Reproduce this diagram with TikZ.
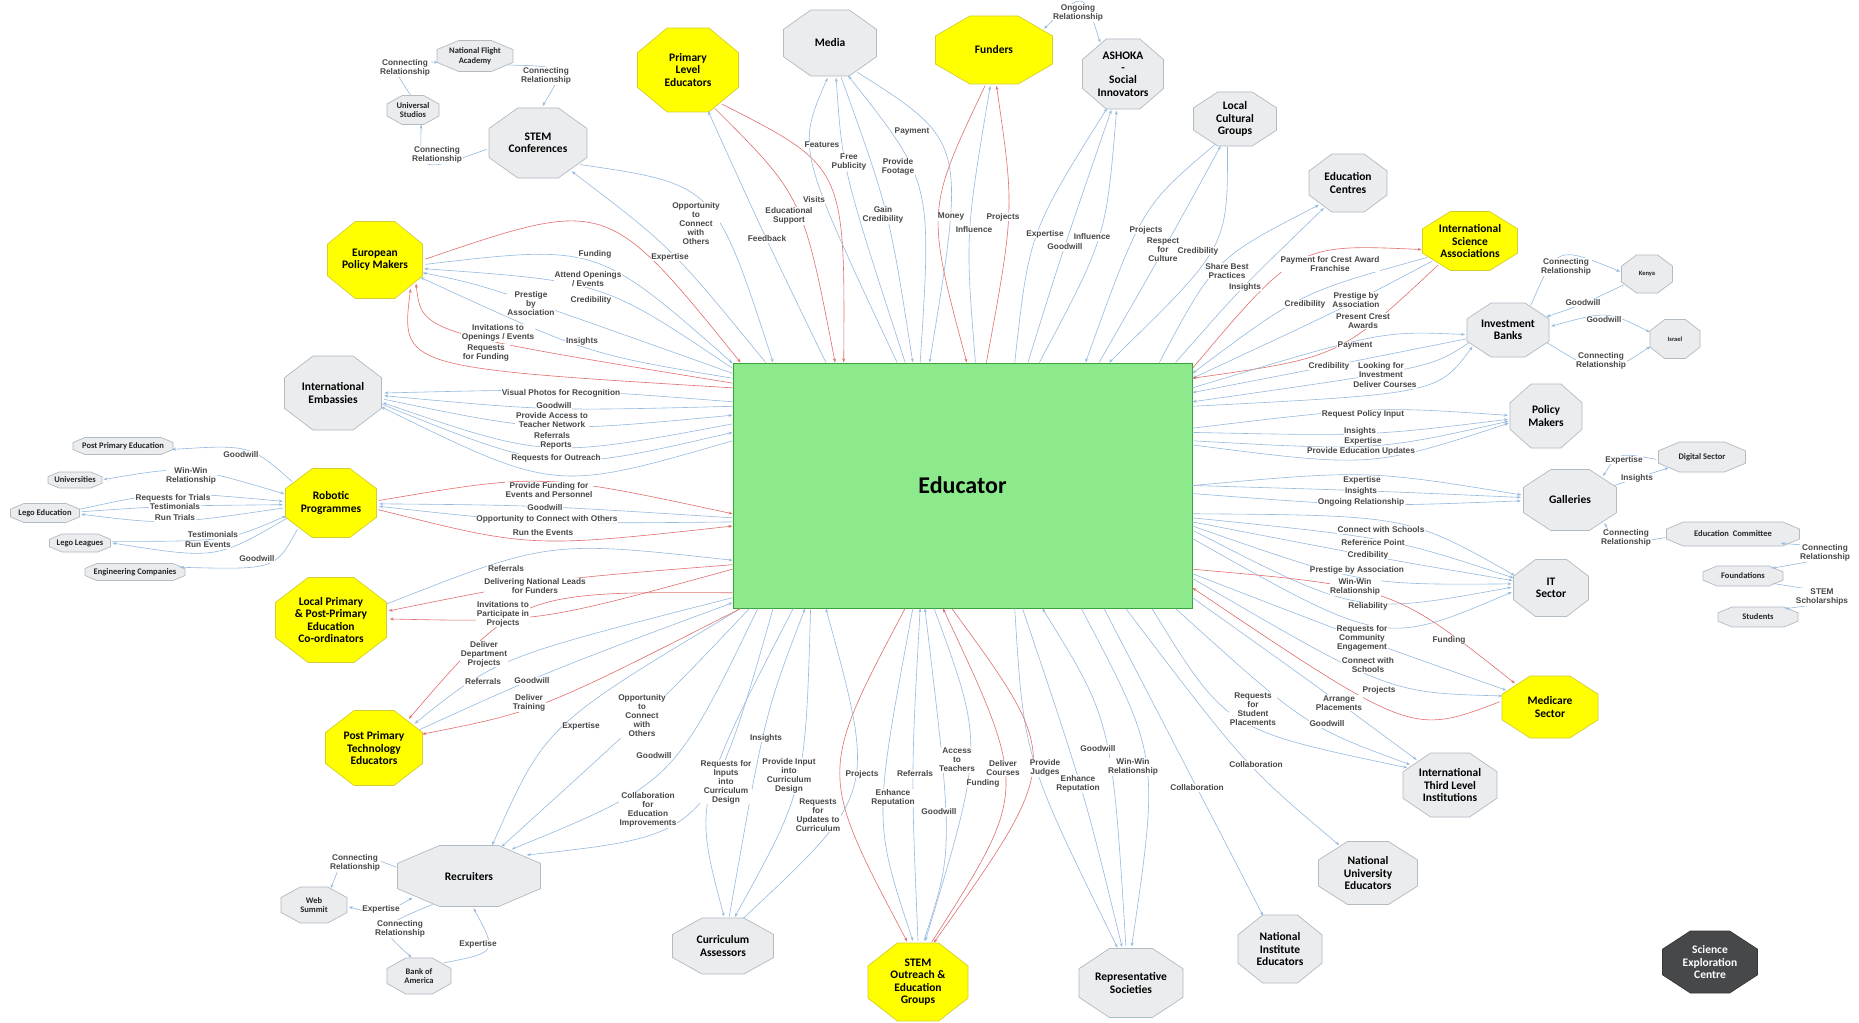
\documentclass[tikz,border=0pt]{standalone}
\usepackage{fontspec}
\setmainfont{Liberation Sans}
\newfontfamily\nodefont{Carlito}
\usetikzlibrary{calc,arrows.meta,shapes.geometric}
\pgfdeclarelayer{fg}
\pgfsetlayers{main,fg}
\definecolor{yfill}{RGB}{255,255,0}
\definecolor{yline}{RGB}{212,205,50}
\definecolor{gfill}{RGB}{234,236,238}
\definecolor{gline}{RGB}{178,186,194}
\definecolor{dfill}{RGB}{70,72,74}
\definecolor{dline}{RGB}{55,55,55}
\definecolor{efill}{RGB}{140,234,140}
\definecolor{eline}{RGB}{60,160,60}
\definecolor{lineblue}{RGB}{150,186,222}
\definecolor{linered}{RGB}{226,110,110}
\definecolor{labelgray}{RGB}{72,72,72}
\newcounter{lbl}
\newcommand\mklabel[3]{%
  \stepcounter{lbl}%
  \begin{pgfonlayer}{fg}\node[lbl] (lbl\arabic{lbl}) at (#1,#2) {#3};\end{pgfonlayer}}
\newcommand\mkoct[8]{%
  \expandafter\def\csname nx@#1\endcsname{#2}%
  \expandafter\def\csname ny@#1\endcsname{#3}%
  \pgfmathsetmacro\ocx{min(0.293*#4,0.7*#5)}%
  \pgfmathsetmacro\ocy{0.293*#5}%
  \path[#6] ({#2-#4/2+\ocx},{#3-#5/2}) -- ({#2+#4/2-\ocx},{#3-#5/2}) -- ({#2+#4/2},{#3-#5/2+\ocy}) -- ({#2+#4/2},{#3+#5/2-\ocy}) -- ({#2+#4/2-\ocx},{#3+#5/2}) -- ({#2-#4/2+\ocx},{#3+#5/2}) -- ({#2-#4/2},{#3+#5/2-\ocy}) -- ({#2-#4/2},{#3-#5/2+\ocy}) -- cycle;
  \node[ellipse, inner sep=0pt, outer sep=0pt, minimum width=1.06*#4pt, minimum height=1.06*#5pt] (#1) at (#2,#3) {};
  \node[#7] (#1t) at (#2,#3) {#8};}
% connector from an outer node to the educator box; [#1] = curve parameter at the label
\newcommand\cedu[8][0.5]{%
  \edef\nax{\csname nx@#3\endcsname}\edef\nay{\csname ny@#3\endcsname}%
  \pgfmathsetmacro\angA{atan2(\nay-(#7),(#6)-\nax)}%
  \pgfmathsetmacro\angB{atan2(485.5-(#5),(#4)-962.5)}%
  \pgfmathsetmacro\tq{#1}%
  \pgfmathsetmacro\ca{(1-\tq)^2}\pgfmathsetmacro\cb{\tq^2}\pgfmathsetmacro\cc{2*\tq*(1-\tq)}%
  \draw[#2] let \p1=(#6,#7), \p4=(#3.\angA), \p5=(E.\angB) in
    (#3.\angA) .. controls ({((\x1)-\ca*(\x4)-\cb*(\x5))/\cc},{((\y1)-\ca*(\y4)-\cb*(\y5))/\cc}) .. (E.\angB);
  \mklabel{#6}{#7}{#8}}
% connector between two outer nodes
\newcommand\cpair[6]{%
  \edef\nax{\csname nx@#2\endcsname}\edef\nay{\csname ny@#2\endcsname}%
  \edef\nbx{\csname nx@#3\endcsname}\edef\nby{\csname ny@#3\endcsname}%
  \pgfmathsetmacro\angA{atan2(\nay-(#5),(#4)-\nax)}%
  \pgfmathsetmacro\angB{atan2(\nby-(#5),(#4)-\nbx)}%
  \draw[#1] let \p1=(#4,#5), \p4=(#2.\angA), \p5=(#3.\angB) in
    (#2.\angA) .. controls ({2*(\x1)-0.5*(\x4)-0.5*(\x5)},{2*(\y1)-0.5*(\y4)-0.5*(\y5)}) .. (#3.\angB);
  \mklabel{#4}{#5}{#6}}
\begin{document}
\begin{tikzpicture}[x=1pt,y=-1pt,
  >={Stealth[length=4pt,width=3pt]},
  ynode/.style={fill=yfill,draw=yline,line width=0.7pt},
  gnode/.style={fill=gfill,draw=gline,line width=0.7pt},
  dnode/.style={fill=dfill,draw=dline,line width=0.7pt},
  nt/.style={align=center,inner sep=0pt,text=black,font=\nodefont\fontsize{11.5}{12.3}\selectfont\bfseries},
  ntw/.style={nt,text=white},
  st/.style={align=center,inner sep=0pt,text=black!85,font=\nodefont\fontsize{8.5}{9.5}\selectfont\bfseries},
  tt/.style={align=center,inner sep=0pt,text=black!85,font=\nodefont\fontsize{6.5}{7}\selectfont\bfseries},
  lbl/.style={fill=white,inner sep=0.6pt,align=center,text=labelgray,font=\fontsize{8.3}{9}\selectfont\bfseries},
  lnb/.style={draw=lineblue,line width=0.6pt},
  lnr/.style={draw=linered,line width=0.6pt}]
\useasboundingbox (0,0) rectangle (1859,1022);
\fill[white] (0,0) rectangle (1859,1022);
% central box
\node[draw=eline,fill=efill,line width=1pt,minimum width=459pt,minimum height=245pt,inner sep=0pt,
  font=\nodefont\fontsize{24}{28}\selectfont\bfseries] (E) at (962.5,485.5) {Educator};
% nodes
\mkoct{epm}{375}{260}{95}{77}{ynode}{nt}{European\\Policy Makers}
\mkoct{stemc}{538}{143}{98}{70}{gnode}{nt}{STEM\\Conferences}
\mkoct{nfa}{475}{56}{76}{31}{gnode}{st}{National Flight\\Academy}
\mkoct{us}{413}{110}{52}{29}{gnode}{st}{Universal\\Studios}
\mkoct{ple}{688}{70}{101}{84}{ynode}{nt}{Primary\\Level\\Educators}
\mkoct{media}{830}{43}{93}{66}{gnode}{nt}{Media}
\mkoct{fund}{994}{50}{117}{68}{ynode}{nt}{Funders}
\mkoct{ash}{1123}{74}{81}{70}{gnode}{nt}{ASHOKA\\-\\Social\\Innovators}
\mkoct{lcg}{1235}{119}{83}{54}{gnode}{nt}{Local\\Cultural\\Groups}
\mkoct{edc}{1348}{183}{78}{58}{gnode}{nt}{Education\\Centres}
\mkoct{isa}{1470}{241}{95}{59}{ynode}{nt}{International\\Science\\Associations}
\mkoct{kenya}{1647}{274}{51}{38}{gnode}{tt}{Kenya}
\mkoct{ib}{1508}{330}{82}{54}{gnode}{nt}{Investment\\Banks}
\mkoct{israel}{1675}{339}{50}{39}{gnode}{tt}{Israel}
\mkoct{pm}{1546}{416}{72}{64}{gnode}{nt}{Policy\\Makers}
\mkoct{gal}{1570}{500}{93}{61}{gnode}{nt}{Galleries}
\mkoct{dig}{1702}{457}{87}{30}{gnode}{st}{Digital Sector}
\mkoct{edcom}{1733}{534}{133}{24}{gnode}{st}{Education\ \ Committee}
\mkoct{found}{1743}{576}{80}{20}{gnode}{st}{Foundations}
\mkoct{stud}{1758}{617}{80}{20}{gnode}{st}{Students}
\mkoct{it}{1551}{588}{75}{57}{gnode}{nt}{IT\\Sector}
\mkoct{med}{1550}{707}{96}{62}{ynode}{nt}{Medicare\\Sector}
\mkoct{itli}{1450}{785}{94}{64}{gnode}{nt}{International\\Third Level\\Institutions}
\mkoct{nue}{1368}{873}{99}{63}{gnode}{nt}{National\\University\\Educators}
\mkoct{nie}{1280}{949}{84}{68}{gnode}{nt}{National\\Institute\\Educators}
\mkoct{sec}{1710}{962}{95}{62}{dnode}{ntw}{Science\\Exploration\\Centre}
\mkoct{rs}{1131}{983}{104}{69}{gnode}{nt}{Representative\\Societies}
\mkoct{sto}{918}{982}{100}{78}{ynode}{nt}{STEM\\Outreach \&\\Education\\Groups}
\mkoct{ca}{723}{946}{101}{56}{gnode}{nt}{Curriculum\\Assessors}
\mkoct{rec}{469}{876}{143}{61}{gnode}{nt}{Recruiters}
\mkoct{ws}{314}{905}{66}{36}{gnode}{st}{Web\\Summit}
\mkoct{boa}{419}{976}{64}{36}{gnode}{st}{Bank of\\America}
\mkoct{ppte}{374}{748}{97}{75}{ynode}{nt}{Post Primary\\Technology\\Educators}
\mkoct{lppc}{331}{620}{111}{85}{ynode}{nt}{Local Primary\\\& Post-Primary\\Education\\Co-ordinators}
\mkoct{rp}{331}{503}{91}{69}{ynode}{nt}{Robotic\\Programmes}
\mkoct{ie}{333}{393}{97}{74}{gnode}{nt}{International\\Embassies}
\mkoct{ppe}{123}{446}{100}{17}{gnode}{st}{Post Primary Education}
\mkoct{univ}{75}{480}{54}{16}{gnode}{st}{Universities}
\mkoct{lego}{45}{513}{69}{19}{gnode}{st}{Lego Education}
\mkoct{legl}{80}{543}{61}{18}{gnode}{st}{Lego Leagues}
\mkoct{engc}{135}{572}{100}{17}{gnode}{st}{Engineering Companies}
% European Policy Makers
\cedu{lnr,->}{epm}{737}{363}{595}{254}{Funding}
\cedu{lnb,->}{epm}{733}{368}{588}{279}{Attend Openings\\/ Events}
\cedu{lnb,<-}{epm}{733}{372}{591}{300}{Credibility}
\cedu{lnb,<-}{epm}{733}{376}{531}{304}{Prestige\\by\\Association}
\cedu{lnb,<-}{epm}{733}{380}{582}{341}{Insights}
\cedu{lnr,<-}{epm}{733}{385}{498}{333}{Invitations to\\Openings / Events}
\cedu{lnr,<-}{epm}{733}{390}{486}{353}{Requests\\for Funding}
% STEM Conferences
\cedu{lnb,->}{stemc}{769}{363}{696}{224}{Opportunity\\to\\Connect\\with\\Others}
\cedu{lnb,<-}{stemc}{762}{363}{670}{257}{Expertise}
% Primary Level Educators
\cedu{lnb,<-}{ple}{823}{363}{767}{239}{Feedback}
\cedu{lnr,->}{ple}{833}{363}{789}{216}{Educational\\Support}
\cedu{lnr,->}{ple}{843}{363}{814}{200}{Visits}
% Media
\cedu[0.35]{lnb,<-}{media}{895}{363}{822}{145}{Features}
\cedu[0.38]{lnb,<-}{media}{903}{363}{849}{162}{Free\\Publicity}
\cedu{lnb,->}{media}{911}{363}{883}{215}{Gain\\Credibility}
\cedu[0.38]{lnb,<-}{media}{920}{363}{898}{167}{Provide\\Footage}
\cedu[0.32]{lnb,->}{media}{929}{363}{912}{132}{Payment}
% Funders
\cedu{lnr,->}{fund}{966}{363}{951}{217}{Money}
\cedu{lnb,<-}{fund}{975}{363}{974}{230}{Influence}
\cedu{lnr,<-}{fund}{985}{363}{1003}{217}{Projects}
% ASHOKA
\cedu{lnb,<-}{ash}{1012}{363}{1045}{234}{Expertise}
\cedu{lnb,<-}{ash}{1025}{363}{1065}{247}{Goodwill}
\cedu{lnb,<-}{ash}{1038}{363}{1092}{237}{Influence}
% Local Cultural Groups
\cedu{lnb,->}{lcg}{1083}{363}{1146}{230}{Projects}
\cedu{lnb,<-}{lcg}{1094}{363}{1163}{250}{Respect\\for\\Culture}
\cedu{lnb,->}{lcg}{1105}{363}{1198}{251}{Credibility}
% Education Centres
\cedu{lnb,<-}{edc}{1158}{363}{1227}{271}{Share Best\\Practices}
\cedu{lnb,<-}{edc}{1168}{363}{1245}{287}{Insights}
% International Science Associations
\cedu[0.38]{lnr,<-}{isa}{1192}{366}{1330}{264}{Payment for Crest Award\\Franchise}
\cedu{lnb,->}{isa}{1192}{370}{1305}{304}{Credibility}
\cedu[0.38]{lnb,->}{isa}{1192}{374}{1356}{300}{Prestige by\\Association}
\cedu[0.35]{lnr,->}{isa}{1192}{378}{1363}{321}{Present Crest\\Awards}
% Investment Banks
\cedu{lnb,<-}{ib}{1192}{385}{1355}{346}{Payment}
\cedu{lnb,->}{ib}{1192}{391}{1329}{366}{Credibility}
\cedu{lnb,->}{ib}{1192}{398}{1381}{370}{Looking for\\Investment}
\cedu{lnb,<-}{ib}{1192}{405}{1385}{385}{Deliver Courses}
% Policy Makers
\cedu{lnb,<-}{pm}{1192}{427}{1363}{414}{Request Policy Input}
\cedu{lnb,<-}{pm}{1192}{432}{1360}{431}{Insights}
\cedu{lnb,<-}{pm}{1192}{437}{1363}{441}{Expertise}
\cedu{lnb,<-}{pm}{1192}{442}{1361}{451}{Provide Education Updates}
% Galleries
\cedu{lnb,<-}{gal}{1192}{482}{1362}{480}{Expertise}
\cedu{lnb,<-}{gal}{1192}{488}{1361}{491}{Insights}
\cedu{lnb,<-}{gal}{1192}{494}{1361}{502}{Ongoing Relationship}
% IT Sector
\cedu{lnb,<-}{it}{1192}{514}{1381}{530}{Connect with Schools}
\cedu{lnb,<-}{it}{1192}{519}{1373}{543}{Reference Point}
\cedu{lnb,<-}{it}{1192}{524}{1368}{555}{Credibility}
\cedu{lnb,<-}{it}{1192}{529}{1357}{570}{Prestige by Association}
\cedu{lnb,<-}{it}{1192}{534}{1355}{587}{Win-Win\\Relationship}
\cedu{lnb,<-}{it}{1192}{539}{1368}{606}{Reliability}
% Medicare Sector
\cedu[0.25]{lnr,<-}{med}{1192}{570}{1449}{640}{Funding}
\cedu{lnb,<-}{med}{1192}{576}{1362}{638}{Requests for\\Community\\Engagement}
\cedu{lnb,<-}{med}{1192}{582}{1368}{665}{Connect with\\Schools}
\cedu{lnr,->}{med}{1192}{589}{1379}{690}{Projects}
% International Third Level Institutions
\cedu{lnb,<-}{itli}{1150}{608}{1253}{709}{Requests\\for\\Student\\Placements}
\cedu[0.38]{lnb,<-}{itli}{1172}{608}{1327}{724}{Goodwill}
\cedu[0.38]{lnb,<-}{itli}{1192}{600}{1339}{703}{Arrange\\Placements}
% National University / Institute Educators
\cedu[0.42]{lnb,<-}{nue}{1125}{608}{1256}{765}{Collaboration}
\cedu{lnb,<-}{nie}{1100}{608}{1197}{788}{Collaboration}
% Representative Societies
\cedu{lnb,<-}{rs}{1012}{608}{1045}{768}{Provide\\Judges}
\cedu{lnb,<-}{rs}{1022}{608}{1078}{784}{Enhance\\Reputation}
\cedu{lnb,->}{rs}{1040}{608}{1098}{749}{Goodwill}
\cedu{lnb,<-}{rs}{1078}{608}{1133}{767}{Win-Win\\Relationship}
% STEM Outreach
\cedu{lnr,<-}{sto}{905}{608}{862}{774}{Projects}
\cedu{lnb,<-}{sto}{911}{608}{893}{798}{Enhance\\Reputation}
\cedu{lnb,->}{sto}{918}{608}{915}{774}{Referrals}
\cedu{lnb,->}{sto}{925}{608}{939}{812}{Goodwill}
\cedu{lnb,<-}{sto}{932}{608}{957}{760}{Access\\to\\Teachers}
\cedu{lnr,->}{sto}{941}{608}{983}{783}{Funding}
\cedu{lnr,<-}{sto}{950}{608}{1003}{768}{Deliver\\Courses}
% Curriculum Assessors
\cedu{lnb,<-}{ca}{793}{608}{726}{782}{Requests for\\Inputs\\into\\Curriculum\\Design}
\cedu{lnb,->}{ca}{801}{608}{766}{738}{Insights}
\cedu{lnb,<-}{ca}{810}{608}{789}{776}{Provide Input\\into\\Curriculum\\Design}
\cedu[0.38]{lnb,->}{ca}{826}{608}{818}{815}{Requests\\for\\Updates to\\Curriculum}
% Recruiters
\cedu{lnb,<-}{rec}{740}{608}{581}{726}{Expertise}
\cedu{lnb,<-}{rec}{749}{608}{642}{716}{Opportunity\\to\\Connect\\with\\Others}
\cedu{lnb,<-}{rec}{758}{608}{654}{756}{Goodwill}
\cedu[0.38]{lnb,<-}{rec}{770}{608}{648}{810}{Collaboration\\for\\Education\\Improvements}
% Post Primary Technology Educators
\cedu[0.3]{lnr,<-}{ppte}{733}{588}{484}{654}{Deliver\\Department\\Projects}
\cedu[0.32]{lnb,<-}{ppte}{733}{594}{483}{682}{Referrals}
\cedu[0.4]{lnb,->}{ppte}{733}{600}{532}{681}{Goodwill}
\cedu[0.4]{lnr,<-}{ppte}{736}{608}{529}{703}{Deliver\\Training}
% Local Primary & Post-Primary Co-ordinators
\cedu[0.36]{lnb,->}{lppc}{733}{557}{506}{569}{Referrals}
\cedu[0.45]{lnr,<-}{lppc}{733}{563}{535}{586}{Delivering National Leads\\for Funders}
\cedu[0.36]{lnr,<-}{lppc}{733}{569}{503}{614}{Invitations to\\Participate in\\Projects}
% Robotic Programmes
\cedu{lnr,->}{rp}{733}{511}{549}{490}{Provide Funding for\\Events and Personnel}
\cedu{lnb,<-}{rp}{733}{515}{545}{508}{Goodwill}
\cedu{lnb,<-}{rp}{733}{519}{547}{519}{Opportunity to Connect with Others}
\cedu{lnr,->}{rp}{733}{523}{543}{533}{Run the Events}
% International Embassies
\cedu{lnb,<-}{ie}{733}{403}{561}{393}{Visual Photos for Recognition}
\cedu{lnb,<-}{ie}{733}{410}{554}{406}{Goodwill}
\cedu{lnb,->}{ie}{733}{418}{552}{420}{Provide Access to\\Teacher Network}
\cedu{lnb,<-}{ie}{733}{426}{552}{436}{Referrals}
\cedu{lnb,->}{ie}{733}{434}{556}{446}{Reports}
\cedu{lnb,<-}{ie}{733}{442}{556}{458}{Requests for Outreach}
% satellite links
\cpair{lnb,->}{us}{nfa}{405}{68}{Connecting\\Relationship}
\cpair{lnb,->}{stemc}{us}{437}{155}{Connecting\\Relationship}
\cpair{lnb,->}{nfa}{stemc}{546}{76}{Connecting\\Relationship}
\cpair{lnb,<->}{fund}{ash}{1078}{13}{Ongoing\\Relationship}
\cpair{lnb,->}{ib}{kenya}{1566}{267}{Connecting\\Relationship}
\cpair{lnb,->}{kenya}{ib}{1583}{303}{Goodwill}
\cpair{lnb,<->}{ib}{israel}{1604}{320}{Goodwill}
\cpair{lnb,->}{ib}{israel}{1601}{361}{Connecting\\Relationship}
\cpair{lnb,->}{dig}{gal}{1624}{460}{Expertise}
\cpair{lnb,->}{gal}{dig}{1637}{478}{Insights}
\cpair{lnb,->}{edcom}{gal}{1626}{538}{Connecting\\Relationship}
\cpair{lnb,<->}{edcom}{found}{1825}{553}{Connecting\\Relationship}
\cpair{lnb,->}{found}{stud}{1822}{597}{STEM\\Scholarships}
\cpair{lnb,->}{rp}{ppe}{241}{455}{Goodwill}
\cpair{lnb,<->}{univ}{rp}{191}{476}{Win-Win\\Relationship}
\cpair{lnb,->}{lego}{rp}{173}{498}{Requests for Trials}
\cpair{lnb,->}{lego}{rp}{175}{507}{Testimonials}
\cpair{lnb,<-}{lego}{rp}{175}{518}{Run Trials}
\cpair{lnb,->}{legl}{rp}{213}{535}{Testimonials}
\cpair{lnb,<-}{legl}{rp}{208}{545}{Run Events}
\cpair{lnb,->}{rp}{engc}{257}{559}{Goodwill}
\cpair{lnb,->}{rec}{ws}{355}{863}{Connecting\\Relationship}
\cpair{lnb,<->}{rec}{ws}{381}{909}{Expertise}
\cpair{lnb,->}{rec}{boa}{400}{929}{Connecting\\Relationship}
\cpair{lnb,->}{boa}{rec}{478}{944}{Expertise}
\end{tikzpicture}
\end{document}
